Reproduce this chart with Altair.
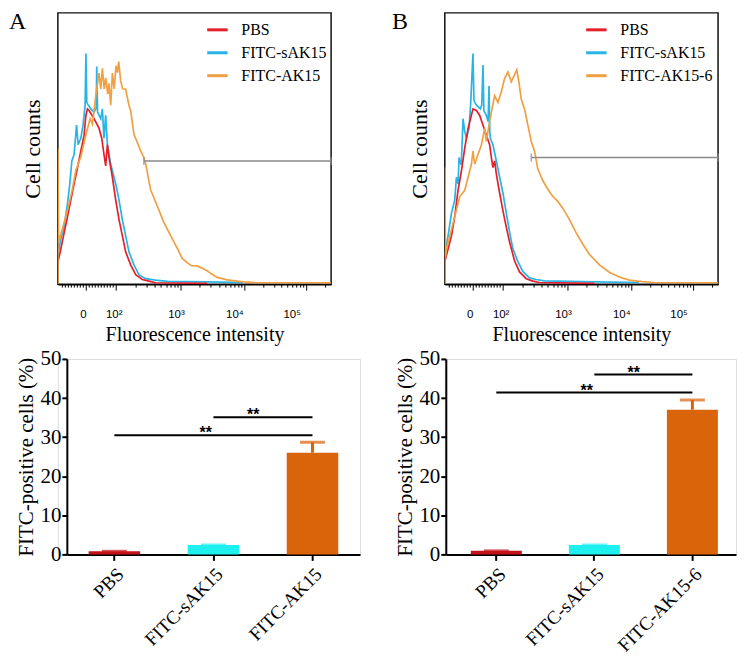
import math
import altair as alt
import pandas as pd

SERIF = "Liberation Serif"
SANS = "Liberation Sans"

# ---------------- histogram data (display channel 0-256, counts as % of max) ----------------
NAMES_A = ["PBS", "FITC-sAK15", "FITC-AK15"]
NAMES_B = ["PBS", "FITC-sAK15", "FITC-AK15-6"]
HIST_COLORS = ["#e3202b", "#27b4e6", "#f0a043"]
GATE_COLOR = "#8a8a8a"

A_PBS_CH = [0, 2.8, 5.9, 9.1, 12.1, 15.2, 18.4, 21.5, 24.6, 26.2, 27.7, 29.2, 32.4, 35.5, 38.6, 41.1,
            43.2, 44.8, 46.4, 47.9, 51.1, 54.2, 57.3, 60.4, 63.5, 68.2, 72.9, 79.1, 85.3, 91.5, 140]
A_PBS_N = [8, 13, 19, 25, 31, 37, 43, 49, 55, 62, 64.6, 64, 62, 59.8, 57.4, 53.8,
           47.8, 43.6, 51.4, 46.7, 39.4, 31, 23.8, 17.9, 11.9, 7.1, 3.5, 1.7, 1.1, 0.5, 0.3]

A_SAK_CH = [0, 2.8, 5.9, 9.1, 11.2, 13.1, 15.2, 17.5, 19, 21.5, 23.6, 25.5, 26.3, 27.1, 28.5, 30.8,
            33.9, 36, 36.4, 37.2, 40.2, 41.7, 43.2, 44.8, 46.4, 49.5, 52.6, 54.8, 57.3, 60.4, 63.5,
            66.6, 71.3, 75.9, 82.2, 91.5, 102.7, 140.1, 173.7]
A_SAK_N = [10.7, 16.7, 21.5, 29.9, 37, 45.4, 47.8, 58.6, 51.4, 53.8, 58.6, 65.8, 85, 67, 66, 64.6,
           63.4, 65, 80.2, 63.4, 61, 64.6, 53.8, 62.2, 51.4, 44.2, 39.4, 35.9, 31, 23.8, 17.9,
           11.9, 7.1, 3.5, 2, 1.5, 1.0, 0.8, 0.6]

A_AK_CH = [0, 0, 0.7, 4.7, 9.1, 13.1, 16.8, 21.5, 26.2, 30.2, 32.4, 35.5, 38.6, 40.2, 41.7, 43.4,
           44.8, 46.7, 47.9, 49.5, 51.1, 52.8, 54.5, 55.8, 57, 58.8, 60.7, 63.5, 66.6, 68.2, 71.3,
           74.7, 77.5, 80.6, 82.2, 86.9, 93.1, 99.3, 105.5, 111.8, 116.5, 121.1, 125.2, 130.5,
           134.5, 139.8, 143.8, 149.2, 158.5, 174, 186.8, 256]
A_AK_N = [0, 50, 15.5, 21, 27.4, 34, 41.8, 47, 55, 61, 59, 69.4, 77.8, 72, 79.6, 72,
          76, 70, 74, 66, 77.8, 72, 80.5, 78, 82, 75, 72, 71.9, 65.9, 64, 55.2,
          52, 49.2, 46.7, 44.4, 34.8, 28.8, 22.8, 18, 13.3, 9.5, 7.9, 6.8, 6.7,
          6.0, 4.9, 3.8, 2.5, 1.6, 0.8, 0.5, 0.5]

B_PBS_CH = [0, 3.1, 6.3, 9.3, 12.4, 15.6, 18.7, 21.8, 26.4, 29.6, 32.7, 35.8, 38.9, 42, 43.6, 45.1,
            46.7, 48.3, 51.4, 54.5, 57.6, 60.7, 65.4, 70, 76.3, 82.5, 88.7, 140.1]
B_PBS_N = [8.3, 13, 17.9, 25, 34.6, 41.8, 50.2, 57.4, 64.6, 64, 62.2, 58.6, 55, 51.4, 46.7, 43,
           45.4, 40.6, 33.5, 27, 21, 15.5, 8.5, 4.5, 2, 1.1, 0.6, 0.3]

B_SAK_CH = [0, 3.1, 6.3, 9.3, 10.9, 12.4, 13.4, 14, 15.4, 17.1, 18.7, 20.3, 22.7, 24.3, 26.4, 27.3,
            28, 30.2, 33.3, 34.6, 35.8, 36.6, 38.9, 40.6, 41.4, 42.2, 42.7, 45.1, 48.3, 51.4, 54.5,
            57.6, 60.7, 63.8, 68.5, 73.1, 79.4, 85.6, 93.4, 140.1, 182.1]
B_SAK_N = [10.7, 17.9, 26.3, 31, 39.4, 37, 46.7, 45.4, 44, 61, 56.2, 53.8, 57.4, 67, 85, 68,
           67, 65.8, 64.6, 66, 80.8, 64, 62.2, 60, 73, 56, 53.8, 51.4, 45.4, 39.4, 33.5,
           26.3, 19.1, 13, 8.3, 4.7, 2.3, 1.7, 1.2, 0.8, 0.6]

B_AK_CH = [0, 0, 0.7, 1.6, 6.3, 10.9, 14, 18.7, 21.8, 24.9, 26.4, 28, 31.1, 34.3, 37.4, 38.9, 41.4,
           43.6, 46.7, 49.8, 53, 56, 59.1, 62.3, 65.4, 67.5, 69.4, 71.6, 74.7, 77.8, 81, 84.1,
           87.1, 91.8, 96.5, 101.2, 105.8, 110.5, 116.8, 123, 129.2, 135.4, 144.8, 154.1, 163.5,
           172.8, 184.9, 196.1, 256]
B_AK_N = [0, 43, 10, 13, 20.2, 27.4, 32.3, 34.6, 39.4, 44.2, 49, 44.2, 47.8, 51.4, 57.4, 52.6, 58.6,
          63.4, 69.4, 67, 71, 75.8, 78.2, 74.6, 77.2, 79, 74.6, 68.2, 64.6, 58.6, 52.6, 49,
          42.5, 38.2, 35, 32.3, 30.5, 28, 23.8, 19, 14.8, 11, 7.1, 4.4, 2.6, 1.5, 0.9, 0.6, 0.5]

# marker gate: (start channel, level)
GATE_A = (80.6, 45.4)
GATE_B = (81.0, 46.7)
CH_MAX = 256

# logicle-like axis: channels of 0, 10^2, 10^3, 10^4, 10^5
MAJORS = [26.2, 54.2, 114.9, 174.7, 232.6]
MAJOR_TEXT = ["0", "10\u00b2", "10\u00b3", "10\u2074", "10\u2075"]
LABEL_SHIFT = [-3, -2, -4.5, -10, -14.5]

# ---------------- bar data ----------------
BAR_CATS_A = ["PBS", "FITC-sAK15", "FITC-AK15"]
BAR_VALS_A = [0.8, 2.4, 26.0]
BAR_ERR_A = [0, 0, 2.7]
SIG_A_FROM = ["PBS", "FITC-sAK15"]
SIG_A_TO = ["FITC-AK15", "FITC-AK15"]
SIG_A_LEVEL = [30.5, 35.1]

BAR_CATS_B = ["PBS", "FITC-sAK15", "FITC-AK15-6"]
BAR_VALS_B = [0.9, 2.4, 37.0]
BAR_ERR_B = [0, 0, 2.5]
SIG_B_FROM = ["PBS", "FITC-sAK15"]
SIG_B_TO = ["FITC-AK15-6", "FITC-AK15-6"]
SIG_B_LEVEL = [41.4, 46.0]

BAR_COLORS = ["#c4121a", "#1ef0f0", "#d9640a"]


# ---------------- axis helpers ----------------
def tick_values():
    vals = list(MAJORS)
    z = MAJORS[0]
    for k in range(-8, 10):
        if k != 0:
            vals.append(round(z + 2.8 * k, 1))
    for lo, hi in zip(MAJORS[1:-1], MAJORS[2:]):
        for m in range(2, 10):
            vals.append(round(lo + math.log10(m) * (hi - lo), 1))
    vals.append(round(MAJORS[-1] + math.log10(2) * (MAJORS[-1] - MAJORS[-2]), 1))
    return sorted(set(vals))


def hist_x_axis():
    parts = [f"datum.value == {v} ? '{t}'" for v, t in zip(MAJORS, MAJOR_TEXT)]
    label_expr = " : ".join(parts) + " : ''"
    label_offset = {
        "condition": [{"test": f"datum.value == {v}", "value": s} for v, s in zip(MAJORS, LABEL_SHIFT)],
        "value": 0,
    }
    tick_size = {
        "condition": {"test": "indexof(%s, datum.value) >= 0" % str(MAJORS), "value": 6},
        "value": 3,
    }
    return alt.Axis(
        values=tick_values(), labelExpr=label_expr, labelOffset=label_offset, tickSize=tick_size,
        labelFont=SANS, labelFontSize=11.5, labelBaseline="top", labelAlign="center",
        labelPadding=18, labelOverlap=False, labelFlush=False, labelColor="black", labelAngle=0,
        tickColor="black", tickWidth=1, domainColor="black", domainWidth=1.5, grid=False,
        title="Fluorescence intensity", titleFont=SERIF, titleFontSize=20, titleFontWeight="normal",
        titleColor="black", titlePadding=5,
    )


def hist_y_axis():
    return alt.Axis(title="Cell counts", labels=False, ticks=False, domain=False, grid=False,
                    titleFont=SERIF, titleFontSize=22, titleFontWeight="normal", titleColor="black",
                    titlePadding=13, minExtent=0, maxExtent=0)


def hist_panel(names, series, gate, legend_x, letter, letter_dx):
    rows = []
    for name, (xs, ys) in zip(names, series):
        for i, (x, y) in enumerate(zip(xs, ys)):
            rows.append({"sample": name, "ch": x, "count": y, "idx": i})
    df = pd.DataFrame(rows)
    xsc = alt.Scale(domain=[0, CH_MAX], nice=False, zero=False)
    ysc = alt.Scale(domain=[0, 100], nice=False)
    xax = hist_x_axis()
    yax = hist_y_axis()
    legend = alt.Legend(title=None, orient="none", legendX=legend_x, legendY=5, symbolType="stroke",
                        symbolSize=420, symbolStrokeWidth=3, labelFont=SERIF, labelFontSize=16,
                        labelColor="black", labelOffset=12, rowPadding=3, padding=0)
    color = alt.Color("sample:N", scale=alt.Scale(domain=names, range=HIST_COLORS), legend=legend)
    X = alt.X("ch:Q", scale=xsc, axis=xax)
    Y = alt.Y("count:Q", scale=ysc, axis=yax)
    layers = []
    for name in (names[1], names[0], names[2]):
        layers.append(
            alt.Chart(df).transform_filter(alt.datum.sample == name)
            .mark_line(strokeWidth=1.7, clip=True)
            .encode(x=X, y=Y, color=color, order=alt.Order("idx:Q"))
        )
    gdf = pd.DataFrame({"start": [gate[0]], "end": [CH_MAX], "level": [gate[1]]})
    gate_rule = alt.Chart(gdf).mark_rule(color=GATE_COLOR, strokeWidth=1.6).encode(
        x=alt.X("start:Q", scale=xsc, axis=xax), x2="end:Q",
        y=alt.Y("level:Q", scale=ysc, axis=yax))
    caps = alt.Chart(gdf).transform_fold(["start", "end"], as_=["edge", "pos"]).mark_tick(
        orient="vertical", size=8, thickness=1.6, color=GATE_COLOR).encode(
        x=alt.X("pos:Q", scale=xsc, axis=xax), y=alt.Y("level:Q", scale=ysc, axis=yax))
    return alt.layer(*layers, gate_rule, caps).properties(
        width=274, height=272,
        title=alt.TitleParams(text=letter, anchor="start", frame="group", orient="top", font=SERIF,
                              fontSize=24, fontWeight="normal", color="black", baseline="top",
                              offset=0, dx=letter_dx, dy=21),
        view=alt.ViewBackground(stroke="#111111", strokeWidth=1.5),
    )


def bar_panel(cats, vals, errs, sfrom, sto, slevel, x_range, band_align, y_off, width):
    df = pd.DataFrame({"cat": cats, "val": vals, "err": errs})
    xsc = alt.Scale(domain=cats, range=x_range, paddingInner=0.48, paddingOuter=0.22, align=band_align)
    xax = alt.Axis(title=None, labelAngle=-45, labelAlign="right", labelBaseline="top", labelFont=SERIF,
                   labelFontSize=19, labelColor="black", tickSize=6, tickWidth=2, tickColor="black",
                   domainWidth=2, domainColor="black", labelPadding=4, grid=False)
    yax = alt.Axis(values=[0, 10, 20, 30, 40, 50], title="FITC-positive cells (%)", titleFont=SERIF,
                   titleFontSize=21, titleFontWeight="normal", titleColor="black", titlePadding=3,
                   labelFont=SERIF, labelFontSize=21, labelColor="black", tickSize=5, tickWidth=2,
                   tickColor="black", domainWidth=2, domainColor="black", labelPadding=1, grid=False,
                   offset=y_off)
    ysc = alt.Scale(domain=[0, 50], nice=False)
    X = alt.X("cat:N", scale=xsc, axis=xax, sort=cats)
    Y = alt.Y("val:Q", scale=ysc, axis=yax)
    color = alt.Color("cat:N", scale=alt.Scale(domain=cats, range=BAR_COLORS), legend=None)
    base = alt.Chart(df).transform_calculate(top="datum.val + datum.err")
    bars = base.mark_bar().encode(x=X, y=Y, color=color)
    err = base.mark_rule(strokeWidth=3).encode(x=X, y=Y, y2="top:Q", color=color)
    cap = base.mark_tick(orient="horizontal", size=25, thickness=3).encode(
        x=X, y=alt.Y("top:Q", scale=ysc, axis=yax), color=color)
    sdf = pd.DataFrame({"frm": sfrom, "to": sto, "level": slevel})
    sig = alt.Chart(sdf).mark_rule(strokeWidth=2, color="black").encode(
        x=alt.X("frm:N", scale=xsc, axis=xax), x2="to:N", y=alt.Y("level:Q", scale=ysc, axis=yax))
    star_layers = []
    for lvl, pos, shift in [(slevel[0], 0.35, 0), (slevel[1], 1.0, 14)]:
        st = pd.DataFrame({"cat": [cats[1]], "level": [lvl], "txt": ["**"]})
        star_layers.append(
            alt.Chart(st).mark_text(font=SANS, fontSize=16, fontWeight="bold", baseline="alphabetic",
                                    dy=3, dx=shift, color="black").encode(
                x=alt.X("cat:N", scale=xsc, axis=xax, bandPosition=pos),
                y=alt.Y("level:Q", scale=ysc, axis=yax), text="txt:N"))
    return alt.layer(bars, err, cap, sig, *star_layers).properties(width=width, height=196)


histA = hist_panel(NAMES_A, [(A_PBS_CH, A_PBS_N), (A_SAK_CH, A_SAK_N), (A_AK_CH, A_AK_N)],
                   GATE_A, 148, "A", -49)
histB = hist_panel(NAMES_B, [(B_PBS_CH, B_PBS_N), (B_SAK_CH, B_SAK_N), (B_AK_CH, B_AK_N)],
                   GATE_B, 140, "B", -53)
barA = bar_panel(BAR_CATS_A, BAR_VALS_A, BAR_ERR_A, SIG_A_FROM, SIG_A_TO, SIG_A_LEVEL,
                 [9, 303], 0.5, -9, 303)
barB = bar_panel(BAR_CATS_B, BAR_VALS_B, BAR_ERR_B, SIG_B_FROM, SIG_B_TO, SIG_B_LEVEL,
                 [1, 292], 0.58, -1, 292)

chart = alt.concat(
    histA, histB, barA, barB, columns=2,
    spacing=alt.RowColnumber(row=75, column=85), bounds="flush", align="each",
).resolve_scale(color="independent", x="independent", y="independent").resolve_legend(
    color="independent").resolve_axis(x="independent", y="independent").properties(
    padding=0).configure_view(strokeWidth=0).configure(font=SERIF, background="white")

chart.save("out.html", embed_options={"renderer": "svg", "actions": False})
